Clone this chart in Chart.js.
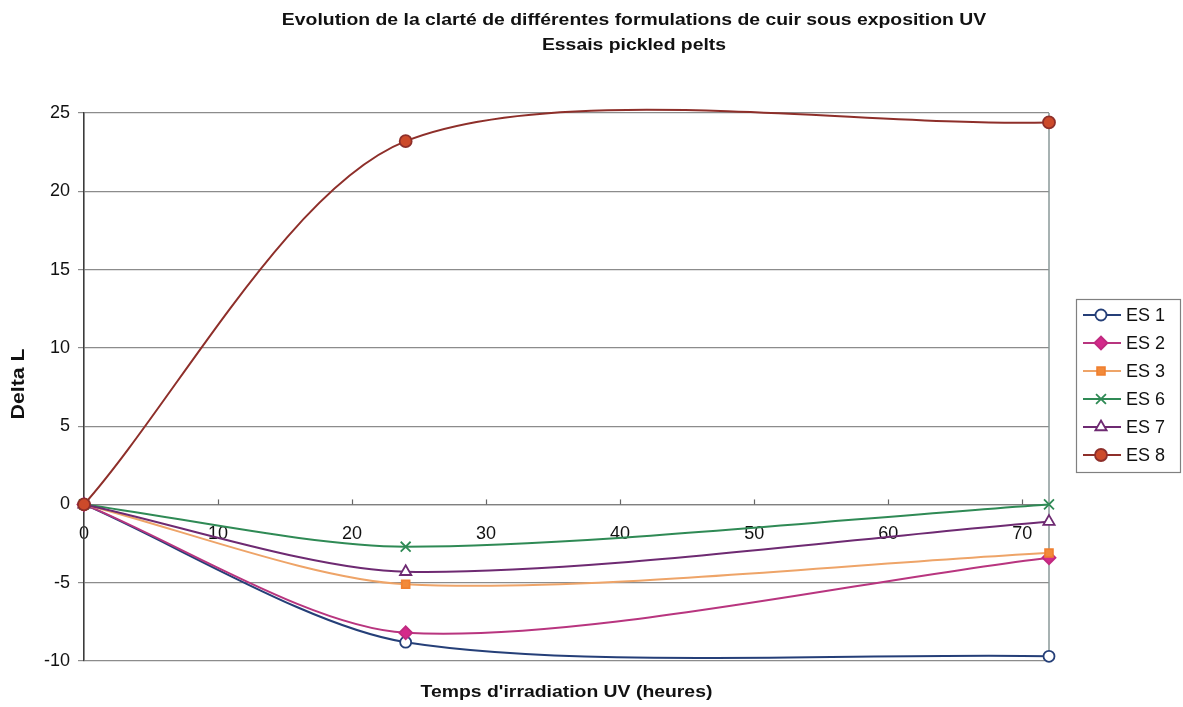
<!DOCTYPE html>
<html>
<head>
<meta charset="utf-8">
<script src="https://cdn.jsdelivr.net/npm/chart.js@4.4.1/dist/chart.umd.min.js"></script>
<style>
  html, body { margin: 0; padding: 0; background: #ffffff; }
  #wrap { width: 1183px; height: 707px; position: relative; }
</style>
</head>
<body>
<div id="wrap"><canvas id="c" width="1183" height="707"></canvas></div>
<script>
// Irradiation time (hours) and measured Delta L per formulation
const hours = [0, 24, 72];
const es1 = [0, -8.8, -9.7];
const es2 = [0, -8.2, -3.4];
const es3 = [0, -5.1, -3.1];
const es6 = [0, -2.7, 0.0];
const es7 = [0, -4.3, -1.1];
const es8 = [0, 23.2, 24.4];
const seriesNames = ['ES 1', 'ES 2', 'ES 3', 'ES 6', 'ES 7', 'ES 8'];
const xTicks = [0, 10, 20, 30, 40, 50, 60, 70];
const yTicks = [-10, -5, 0, 5, 10, 15, 20, 25];
const titleLines = [
  'Evolution de la clarté de différentes formulations de cuir sous exposition UV',
  'Essais pickled pelts'
];
const xTitle = "Temps d'irradiation UV (heures)";
const yTitle = 'Delta L';

const FONT = '"Liberation Sans", Arial, sans-serif';
const TEXT_STRETCH = 1.14;   // slightly wide lettering for titles

const styles = [
  { line: '#253f78', fill: '#ffffff', edge: '#253f78', shape: 'circle',   r: 5.5 },
  { line: '#b8357f', fill: '#d42a8a', edge: '#c02a80', shape: 'rectRot',  r: 6.5 },
  { line: '#eea468', fill: '#f28a3a', edge: '#f08030', shape: 'rect',     r: 5.5 },
  { line: '#2f8a55', fill: '#2f8a55', edge: '#2f8a55', shape: 'crossRot', r: 7 },
  { line: '#6e2a72', fill: '#ffffff', edge: '#6e2a72', shape: 'triangle', r: 6.5 },
  { line: '#8e2f2a', fill: '#cc4a2a', edge: '#8e2f2a', shape: 'circle',   r: 6 }
];

const seriesValues = [es1, es2, es3, es6, es7, es8];

const datasets = seriesValues.map((vals, i) => ({
  label: seriesNames[i],
  data: hours.map((h, k) => ({ x: h, y: vals[k] })),
  borderColor: styles[i].line,
  borderWidth: 2,
  backgroundColor: styles[i].fill,
  pointStyle: styles[i].shape,
  pointRadius: styles[i].r,
  pointBorderWidth: 1.8,
  pointBackgroundColor: styles[i].fill,
  pointBorderColor: styles[i].edge,
  tension: 0.28,
  clip: false,
  order: seriesValues.length - i
}));

// centred text drawn with a horizontal stretch
function wideText(ctx, text, cx, cy, stretch) {
  ctx.save();
  ctx.translate(cx, cy);
  ctx.scale(stretch, 1);
  ctx.fillText(text, 0, 0);
  ctx.restore();
}

// Chart furniture: titles, upward x tick marks, right frame line, boxed legend
const furniture = {
  id: 'furniture',
  beforeDatasetsDraw(chart) {
    const ctx = chart.ctx;
    const a = chart.chartArea;
    const xs = chart.scales.x, ys = chart.scales.y;
    const y0 = ys.getPixelForValue(0);
    ctx.save();
    ctx.strokeStyle = '#8a9898';
    ctx.lineWidth = 1.5;
    ctx.beginPath();
    ctx.moveTo(a.right, a.top);
    ctx.lineTo(a.right, a.bottom);
    ctx.stroke();
    ctx.strokeStyle = '#666666';
    ctx.lineWidth = 1.2;
    xTicks.forEach(v => {
      const px = Math.round(xs.getPixelForValue(v)) + 0.5;
      ctx.beginPath();
      ctx.moveTo(px, y0);
      ctx.lineTo(px, y0 - 5);
      ctx.stroke();
    });
    ctx.restore();
  },
  afterDraw(chart) {
    const ctx = chart.ctx;
    const a = chart.chartArea;
    ctx.save();
    ctx.fillStyle = '#111111';
    ctx.textAlign = 'center';
    ctx.textBaseline = 'middle';
    ctx.font = 'bold 17px ' + FONT;
    wideText(ctx, titleLines[0], 634, 20, TEXT_STRETCH);
    wideText(ctx, titleLines[1], 634, 45, TEXT_STRETCH);
    wideText(ctx, xTitle, (a.left + a.right) / 2, 692, TEXT_STRETCH);

    // vertical axis title
    ctx.save();
    ctx.translate(19, 384);
    ctx.rotate(-Math.PI / 2);
    ctx.scale(1.12, 1);
    ctx.font = 'bold 19px ' + FONT;
    ctx.fillText(yTitle, 0, 0);
    ctx.restore();

    // legend
    const lx = a.right + 27, ly = 299, lw = 104, lh = 173;
    ctx.strokeStyle = '#808080';
    ctx.lineWidth = 1.2;
    ctx.strokeRect(lx + 0.5, ly + 0.5, lw, lh);
    ctx.font = '18px ' + FONT;
    ctx.textAlign = 'left';
    const drawPoint = Chart.helpers && Chart.helpers.drawPoint;
    seriesNames.forEach((name, i) => {
      const cy = ly + 16 + i * 28;
      const s = styles[i];
      ctx.strokeStyle = s.line;
      ctx.lineWidth = 2;
      ctx.beginPath();
      ctx.moveTo(lx + 7, cy);
      ctx.lineTo(lx + 45, cy);
      ctx.stroke();
      ctx.fillStyle = s.fill;
      ctx.strokeStyle = s.edge;
      ctx.lineWidth = 1.8;
      if (drawPoint) {
        drawPoint(ctx, { pointStyle: s.shape, radius: s.r, rotation: 0, borderWidth: 1.8 }, lx + 25, cy);
      } else {
        ctx.beginPath();
        ctx.arc(lx + 25, cy, s.r, 0, Math.PI * 2);
        ctx.fill();
        ctx.stroke();
      }
      ctx.fillStyle = '#111111';
      ctx.fillText(name, lx + 50, cy + 1);
    });
    ctx.restore();
  }
};

new Chart(document.getElementById('c'), {
  type: 'line',
  data: { datasets },
  options: {
    responsive: false,
    animation: false,
    layout: { padding: { top: 113, bottom: 46, left: 0, right: 134 } },
    plugins: {
      legend: { display: false },
      title: { display: false },
      tooltip: { enabled: false }
    },
    elements: { line: { capBezierPoints: false } },
    scales: {
      x: {
        type: 'linear',
        position: { y: 0 },
        min: 0,
        max: 72,
        afterBuildTicks(scale) { scale.ticks = xTicks.map(v => ({ value: v })); },
        grid: { display: false, drawTicks: false },
        border: { display: true, color: '#808080', width: 1.2 },
        ticks: { padding: 19, color: '#111111', font: { family: FONT, size: 18 }, maxRotation: 0 }
      },
      y: {
        type: 'linear',
        min: -10,
        max: 25,
        afterBuildTicks(scale) { scale.ticks = yTicks.map(v => ({ value: v })); },
        afterFit(scale) { scale.width = 84; },
        grid: { color: '#8c8c8c', lineWidth: 1.2, tickLength: 6, drawTicks: true },
        border: { display: true, color: '#3c3c3c', width: 1.6 },
        ticks: { padding: 8, color: '#111111', font: { family: FONT, size: 18 } },
        title: { display: false }
      }
    }
  },
  plugins: [furniture]
});
</script>
</body>
</html>
